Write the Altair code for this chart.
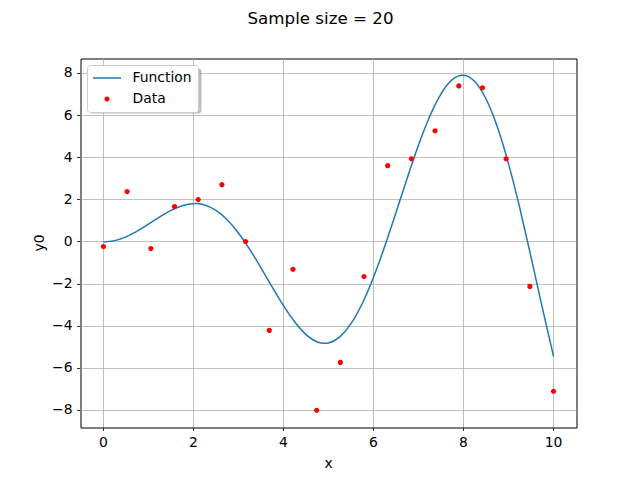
import altair as alt
import pandas as pd

x_func = [0.0, 0.25, 0.5, 0.75, 1.0, 1.25, 1.5, 1.75, 2.0, 2.25, 2.5, 2.75,
          3.0, 3.25, 3.5, 3.75, 4.0, 4.25, 4.5, 4.75, 5.0, 5.25, 5.5, 5.75,
          6.0, 6.25, 6.5, 6.75, 7.0, 7.25, 7.5, 7.75, 8.0, 8.25, 8.5, 8.75,
          9.0, 9.25, 9.5, 9.75, 10.0]
y_func = [0.0, 0.062, 0.24, 0.511, 0.842, 1.186, 1.496, 1.722, 1.819, 1.751,
          1.496, 1.05, 0.423, -0.352, -1.228, -2.144, -3.027, -3.804, -4.399,
          -4.747, -4.795, -4.509, -3.88, -2.922, -1.677, -0.207, 1.398, 3.038,
          4.599, 5.968, 7.035, 7.708, 7.915, 7.613, 6.787, 5.466, 3.709, 1.612,
          -0.714, -3.115, -5.44]

# Sampled data points
x_data = [0.0, 0.526, 1.053, 1.579, 2.105, 2.632, 3.158, 3.684, 4.211, 4.737,
          5.263, 5.789, 6.316, 6.842, 7.368, 7.895, 8.421, 8.947, 9.474, 10.0]
y_data = [-0.22, 2.39, -0.31, 1.68, 2.01, 2.72, 0.02, -4.20, -1.30, -7.99,
          -5.72, -1.64, 3.62, 3.95, 5.28, 7.41, 7.32, 3.95, -2.11, -7.09]

series_names = ["Function", "Data"]
series_colors = ["#1f77b4", "#ff0000"]
x_ticks = [0, 2, 4, 6, 8, 10]
y_ticks = [-8, -6, -4, -2, 0, 2, 4, 6, 8]

func_df = pd.DataFrame({"x": x_func, "y0": y_func, "series": "Function"})
data_df = pd.DataFrame({"x": x_data, "y0": y_data, "series": "Data"})

FONT = "DejaVu Sans"
FS = 13.9
LINE_PATH = "M-2,-0.107H2V0.107H-2Z"
DOT_PATH = "M0.37,0A0.37,0.37 0 1,1 -0.37,0A0.37,0.37 0 1,1 0.37,0Z"

xscale = alt.Scale(domain=[-0.51, 10.51], nice=False, zero=False)
yscale = alt.Scale(domain=[-8.81, 8.71], nice=False, zero=False)
color_scale = alt.Scale(domain=series_names, range=series_colors)
shape_scale = alt.Scale(domain=series_names, range=[LINE_PATH, DOT_PATH])

axis_style = dict(
    grid=True, gridColor="#b0b0b0", gridWidth=0.8, gridOpacity=1,
    ticks=True, tickColor="black", tickSize=3.5, tickWidth=0.8,
    labelFont=FONT, labelFontSize=FS, labelColor="black", labelPadding=4.5,
    titleFont=FONT, titleFontSize=FS, titleFontWeight="normal", titleColor="black",
    titleBaseline="alphabetic", domain=False, translate=0, format="d",
)
xaxis = alt.Axis(values=x_ticks, title="x", titleY=40, **axis_style)
yaxis = alt.Axis(values=y_ticks, title="y0", titleX=-37, **axis_style)

legend = alt.Legend(orient="none", legendX=6.5, legendY=6.5, title=None,
                    symbolSize=196, symbolStrokeWidth=0, symbolOpacity=1,
                    symbolOffset=7,
                    labelFontSize=FS, labelFont=FONT, labelColor="black",
                    labelOffset=18.5, rowPadding=7, padding=6,
                    strokeColor="#cccccc", fillColor="white", cornerRadius=3)

shadow = alt.Chart(pd.DataFrame({"a": [0]})).mark_rect(
    color="#888888", opacity=0.55, cornerRadius=3
).encode(x=alt.value(10), x2=alt.value(121), y=alt.value(10), y2=alt.value(55))

line = alt.Chart(func_df).mark_line(strokeWidth=1.5, interpolate="natural").encode(
    x=alt.X("x:Q", scale=xscale, axis=xaxis),
    y=alt.Y("y0:Q", scale=yscale, axis=yaxis),
    color=alt.Color("series:N", scale=color_scale, legend=legend),
)

points = alt.Chart(data_df).mark_point(filled=True, size=196, opacity=1, strokeWidth=0).encode(
    x=alt.X("x:Q", scale=xscale),
    y=alt.Y("y0:Q", scale=yscale),
    color=alt.Color("series:N", scale=color_scale, legend=legend),
    shape=alt.Shape("series:N", scale=shape_scale, legend=legend),
)

chart = alt.layer(shadow, line, points).properties(
    width=496, height=369,
    background="white",
    autosize=alt.AutoSizeParams(type="none"),
    padding={"left": 80.5, "top": 58.5, "right": 63.5, "bottom": 52.5},
    title=alt.TitleParams("Sample size = 20", fontSize=16.7, font=FONT,
                          fontWeight="normal", anchor="middle", frame="group",
                          dx=-8, offset=18, baseline="alphabetic", color="black"),
).configure_view(
    stroke="black", strokeWidth=1
)

chart.save("out.html", embed_options={"renderer": "svg", "actions": False})
